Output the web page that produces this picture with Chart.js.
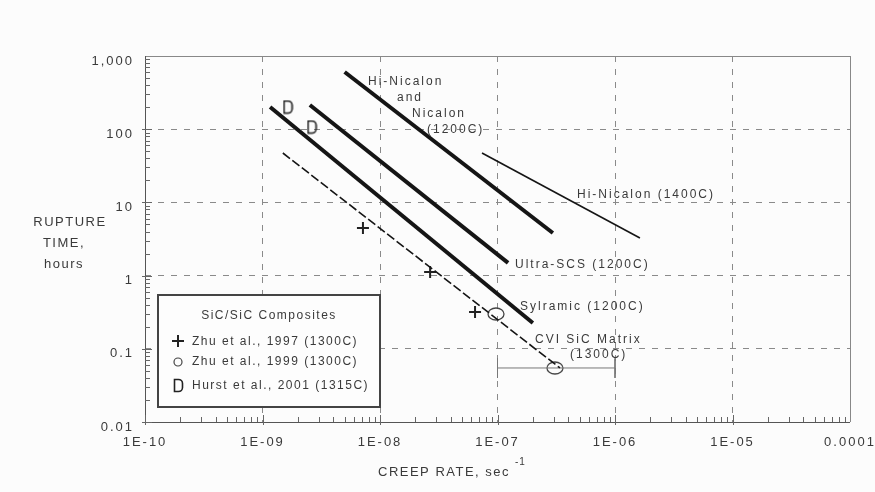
<!DOCTYPE html>
<html>
<head>
<meta charset="utf-8">
<script src="https://cdn.jsdelivr.net/npm/chart.js@4.4.1/dist/chart.umd.min.js"></script>
<style>
  html, body { margin: 0; background: #fcfcfc; }
  #wrap { width: 875px; height: 492px; }
</style>
</head>
<body>
<div id="wrap"><canvas id="creepChart" width="875" height="492"></canvas></div>
<script>
// creep rate (1/s) vs rupture time (h)
const xTicks = [1e-10, 1e-9, 1e-8, 1e-7, 1e-6, 1e-5, 1e-4];
const xTickLabels = ['1E-10', '1E-09', '1E-08', '1E-07', '1E-06', '1E-05', '0.0001'];
const yTicks = [0.01, 0.1, 1, 10, 100, 1000];
const yTickLabels = ['0.01', '0.1', '1', '10', '100', '1,000'];

// fibre curves (end points of straight lines in log-log space)
const hiNic1200X = [5.0e-9, 2.96e-7];
const hiNic1200Y = [604, 3.82];
const ultraScsX = [2.53e-9, 1.23e-7];
const ultraScsY = [214, 1.49];
const sylramicX = [1.16e-9, 2.0e-7];
const sylramicY = [201, 0.225];
const cviMatrixX = [1.49e-9, 3.4e-7];
const cviMatrixY = [47.3, 0.0547];
const hiNic1400X = [7.38e-8, 1.63e-6];
const hiNic1400Y = [47.3, 3.26];

// SiC/SiC composite data points
const zhu1997X = [7.16e-9, 2.67e-8, 6.44e-8];
const zhu1997Y = [4.47, 1.12, 0.318];
const zhu1999X = [9.7e-8, 3.08e-7];
const zhu1999Y = [0.299, 0.0547];
const hurst2001X = [1.65e-9, 2.64e-9];
const hurst2001Y = [201, 107];

// scatter band on the CVI matrix point
const errBarX = [1e-7, 1e-6];
const errBarY = [0.0547, 0.0547];
const errCapY = [0.074, 0.040];

const TEXT = '#3a3a3a';
const FONT = '"Liberation Sans", Arial, sans-serif';

function pts(xs, ys) { return xs.map((x, i) => ({ x: x, y: ys[i] })); }

function lineSet(xs, ys, w, dash, color) {
  return { data: pts(xs, ys), showLine: true, borderColor: color || '#151515', borderWidth: w,
           borderDash: dash || [], pointRadius: 0, fill: false };
}

function dMark(w, h) {
  const c = document.createElement('canvas'); c.width = w; c.height = h;
  const g = c.getContext('2d');
  g.strokeStyle = '#222'; g.lineWidth = 1.6;
  const r = (w - 3) / 2;
  g.beginPath();
  g.moveTo(1.5, 1.5); g.lineTo(w - 1.5 - r, 1.5);
  g.arc(w - 1.5 - r, 1.5 + r, r, -Math.PI / 2, 0);
  g.lineTo(w - 1.5, h - 1.5 - r);
  g.arc(w - 1.5 - r, h - 1.5 - r, r, 0, Math.PI / 2);
  g.lineTo(1.5, h - 1.5); g.closePath(); g.stroke();
  return c;
}

function ellipseMark(w, h) {
  const c = document.createElement('canvas'); c.width = w; c.height = h;
  const g = c.getContext('2d');
  g.strokeStyle = '#444'; g.lineWidth = 1.3;
  g.beginPath(); g.ellipse(w / 2, h / 2, w / 2 - 1, h / 2 - 1, 0, 0, 2 * Math.PI); g.stroke();
  return c;
}

const dImg = dMark(11, 15);
const ellImg = ellipseMark(18, 14);

const textLabels = [
  ['Hi-Nicalon', 368, 82], ['and', 397, 98], ['Nicalon', 412, 114], ['(1200C)', 427, 130],
  ['Hi-Nicalon (1400C)', 577, 195], ['Ultra-SCS (1200C)', 515, 265],
  ['Sylramic (1200C)', 520, 307], ['CVI SiC Matrix', 535, 340], ['(1300C)', 570, 355]
];

const annotate = {
  id: 'annotate',
  beforeDraw(chart) { chart.ctx.letterSpacing = '2px'; },
  afterDraw(chart) {
    const ctx = chart.ctx, a = chart.chartArea;
    const xs = chart.scales.x, ys = chart.scales.y;
    ctx.save();
    ctx.letterSpacing = '0px';
    // frame
    ctx.lineWidth = 1;
    ctx.strokeStyle = '#888';
    ctx.beginPath();
    ctx.moveTo(a.left, a.top + 0.5); ctx.lineTo(a.right + 0.5, a.top + 0.5); ctx.lineTo(a.right + 0.5, a.bottom);
    ctx.stroke();
    ctx.strokeStyle = '#555';
    ctx.beginPath();
    ctx.moveTo(a.left + 0.5, a.top); ctx.lineTo(a.left + 0.5, a.bottom + 0.5); ctx.lineTo(a.right, a.bottom + 0.5);
    ctx.stroke();
    // inward minor ticks
    ctx.strokeStyle = '#666';
    ctx.beginPath();
    for (let d = -2; d < 3; d++) {
      for (let k = 1; k < 10; k++) {
        const py = Math.round(ys.getPixelForValue(k * Math.pow(10, d))) + 0.5;
        ctx.moveTo(a.left - (k === 1 ? 3 : 0), py); ctx.lineTo(a.left + (k === 1 ? 7 : 5), py);
      }
    }
    for (let d = -10; d < -4; d++) {
      for (let k = 1; k < 10; k++) {
        const px = Math.round(xs.getPixelForValue(k * Math.pow(10, d))) + 0.5;
        ctx.moveTo(px, a.bottom + (k === 1 ? 3 : 0)); ctx.lineTo(px, a.bottom - (k === 1 ? 7 : 5));
      }
    }
    ctx.stroke();

    // curve labels
    ctx.fillStyle = TEXT;
    ctx.font = '12px ' + FONT;
    ctx.letterSpacing = '2px';
    ctx.textBaseline = 'middle';
    ctx.textAlign = 'left';
    textLabels.forEach(t => ctx.fillText(t[0], t[1], t[2]));

    // axis titles
    ctx.font = '13px ' + FONT;
    ctx.letterSpacing = '1.5px';
    ctx.textAlign = 'center';
    ctx.fillText('RUPTURE', 70, 222);
    ctx.fillText('TIME,', 64, 243);
    ctx.fillText('hours', 64, 264);
    ctx.textAlign = 'left';
    ctx.fillText('CREEP RATE, sec', 378, 472);
    ctx.font = '10px ' + FONT;
    ctx.letterSpacing = '1px';
    ctx.fillText('-1', 515, 462);

    // legend box
    const L = 158, T = 295, R = 380, B = 407;
    ctx.fillStyle = '#fdfdfd';
    ctx.fillRect(L, T, R - L, B - T);
    ctx.strokeStyle = '#444'; ctx.lineWidth = 2;
    ctx.strokeRect(L, T, R - L, B - T);
    ctx.fillStyle = TEXT;
    ctx.font = '12px ' + FONT;
    ctx.letterSpacing = '1.5px';
    ctx.textAlign = 'center';
    ctx.fillText('SiC/SiC Composites', 269, 316);
    ctx.textAlign = 'left';
    const rows = [['Zhu et al., 1997 (1300C)', 342], ['Zhu et al., 1999 (1300C)', 362], ['Hurst et al., 2001 (1315C)', 386]];
    rows.forEach(r => ctx.fillText(r[0], 192, r[1]));
    // legend symbols
    ctx.strokeStyle = '#222'; ctx.lineWidth = 2;
    ctx.beginPath(); ctx.moveTo(172, 341); ctx.lineTo(184, 341); ctx.moveTo(178, 335); ctx.lineTo(178, 347); ctx.stroke();
    ctx.strokeStyle = '#444'; ctx.lineWidth = 1.2;
    ctx.beginPath(); ctx.arc(178, 362, 4, 0, 2 * Math.PI); ctx.stroke();
    ctx.drawImage(dImg, 173, 378);
    ctx.restore();
  }
};

new Chart(document.getElementById('creepChart'), {
  type: 'scatter',
  data: {
    datasets: [
      lineSet(hiNic1200X, hiNic1200Y, 4),
      lineSet(ultraScsX, ultraScsY, 4),
      lineSet(sylramicX, sylramicY, 4),
      lineSet(cviMatrixX, cviMatrixY, 1.6, [9, 3]),
      lineSet(hiNic1400X, hiNic1400Y, 1.6),
      lineSet(errBarX, errBarY, 1, [], '#777'),
      lineSet([errBarX[0], errBarX[0]], errCapY, 1, [], '#777'),
      lineSet([errBarX[1], errBarX[1]], errCapY, 1, [], '#777'),
      { data: pts(zhu1997X, zhu1997Y), pointStyle: 'cross', pointRadius: 6, borderWidth: 2, borderColor: '#222' },
      { data: pts(zhu1999X, zhu1999Y), pointStyle: ellImg, pointRadius: 8 },
      { data: pts(hurst2001X, hurst2001Y), pointStyle: dImg, pointRadius: 8 }
    ]
  },
  options: {
    responsive: false,
    devicePixelRatio: 1,
    animation: false,
    layout: { padding: { top: 56, right: 25, left: 0, bottom: 0 } },
    plugins: { legend: { display: false }, tooltip: { enabled: false } },
    scales: {
      x: {
        type: 'logarithmic', min: xTicks[0], max: xTicks[xTicks.length - 1],
        afterBuildTicks: s => { s.ticks = xTicks.map(v => ({ value: v })); },
        afterFit: s => { s.height = 70; s.paddingLeft = 0; s.paddingRight = 0; },
        grid: { color: '#8a8a8a', lineWidth: 1, drawTicks: false },
        border: { display: false, dash: [6, 7] },
        ticks: { color: TEXT, font: { family: FONT, size: 13 }, padding: 13, maxRotation: 0, autoSkip: false,
                 callback: (v, i) => xTickLabels[i] }
      },
      y: {
        type: 'logarithmic', min: yTicks[0], max: yTicks[yTicks.length - 1],
        afterBuildTicks: s => { s.ticks = yTicks.map(v => ({ value: v })); },
        afterFit: s => { s.width = 145; s.paddingTop = 0; s.paddingBottom = 0; },
        grid: { color: '#8a8a8a', lineWidth: 1, drawTicks: false },
        border: { display: false, dash: [6, 7] },
        ticks: { color: TEXT, font: { family: FONT, size: 13 }, padding: 11, labelOffset: 5, autoSkip: false,
                 callback: (v, i) => yTickLabels[i] }
      }
    }
  },
  plugins: [annotate]
});
</script>
</body>
</html>
